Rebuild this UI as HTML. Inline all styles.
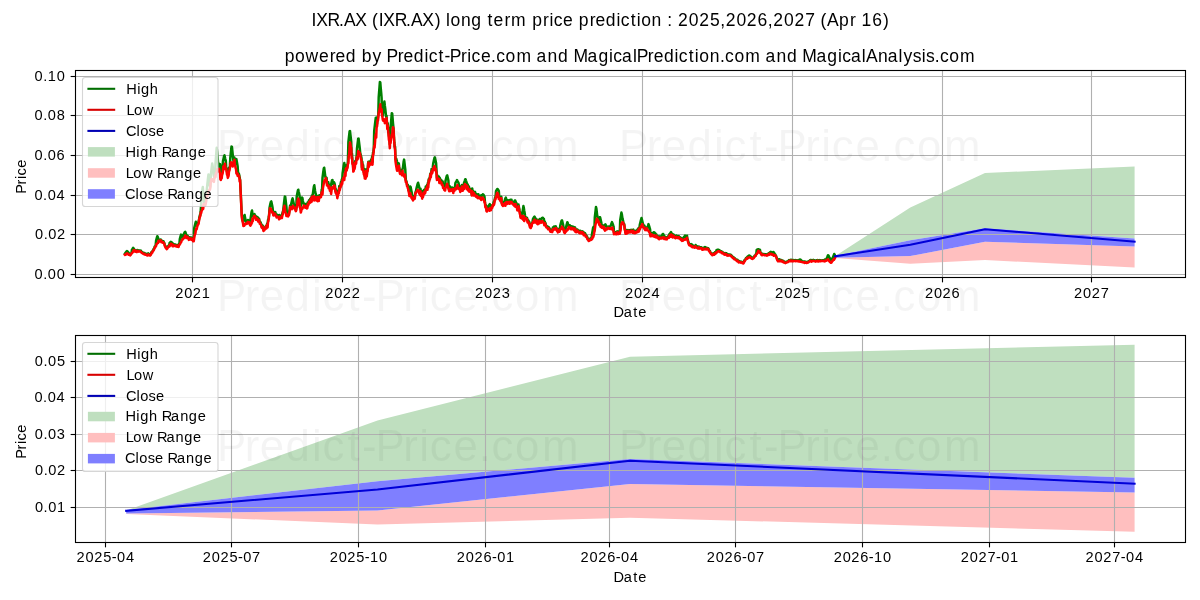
<!DOCTYPE html><html><head><meta charset="utf-8"><style>html,body{margin:0;padding:0;background:#fff;overflow:hidden}svg{display:block;will-change:transform}text{white-space:pre;font-family:"Liberation Sans",sans-serif;fill:#000}</style></head><body>
<svg width="1200" height="600" viewBox="0 0 1200 600">
<rect width="1200" height="600" fill="#fff"/>
<defs><clipPath id="ct"><rect x="75.5" y="70.5" width="1110.0" height="207.0"/></clipPath><clipPath id="cb"><rect x="75.5" y="335.5" width="1110.0" height="207.0"/></clipPath></defs>
<g clip-path="url(#ct)">
<polygon fill="#bfdfbf" points="835.1,256.1 910.3,207.4 985.0,173.0 1134.6,166.5 1134.6,238.4 985.0,228.3 910.3,240.3 835.1,255.8"/>
<polygon fill="#ffbfbf" points="835.1,257.7 910.3,256.1 985.0,241.8 1134.6,246.4 1134.6,267.5 985.0,260.0 910.3,263.7 835.1,258.0"/>
<polygon fill="#7f7fff" points="835.1,255.8 910.3,240.3 985.0,228.3 1134.6,238.4 1134.6,246.4 985.0,241.8 910.3,256.1 835.1,257.7"/>
<line x1="75.5" x2="1185.5" y1="274.5" y2="274.5" stroke="#b0b0b0" stroke-width="1.11"/>
<line x1="75.5" x2="1185.5" y1="234.5" y2="234.5" stroke="#b0b0b0" stroke-width="1.11"/>
<line x1="75.5" x2="1185.5" y1="195.5" y2="195.5" stroke="#b0b0b0" stroke-width="1.11"/>
<line x1="75.5" x2="1185.5" y1="155.5" y2="155.5" stroke="#b0b0b0" stroke-width="1.11"/>
<line x1="75.5" x2="1185.5" y1="115.5" y2="115.5" stroke="#b0b0b0" stroke-width="1.11"/>
<line x1="75.5" x2="1185.5" y1="76.5" y2="76.5" stroke="#b0b0b0" stroke-width="1.11"/>
<line x1="192.5" x2="192.5" y1="70.5" y2="277.5" stroke="#b0b0b0" stroke-width="1.11"/>
<line x1="342.5" x2="342.5" y1="70.5" y2="277.5" stroke="#b0b0b0" stroke-width="1.11"/>
<line x1="492.5" x2="492.5" y1="70.5" y2="277.5" stroke="#b0b0b0" stroke-width="1.11"/>
<line x1="642.5" x2="642.5" y1="70.5" y2="277.5" stroke="#b0b0b0" stroke-width="1.11"/>
<line x1="792.5" x2="792.5" y1="70.5" y2="277.5" stroke="#b0b0b0" stroke-width="1.11"/>
<line x1="942.5" x2="942.5" y1="70.5" y2="277.5" stroke="#b0b0b0" stroke-width="1.11"/>
<line x1="1091.5" x2="1091.5" y1="70.5" y2="277.5" stroke="#b0b0b0" stroke-width="1.11"/>
<polyline fill="none" stroke="#008000" stroke-width="2.5" stroke-linejoin="round" stroke-linecap="square" points="124.9,253.7 125.3,253.0 125.7,252.5 126.1,252.0 126.5,251.5 126.9,251.1 127.4,251.4 127.8,251.9 128.2,252.4 128.6,252.9 129.0,253.4 129.4,253.9 129.8,254.0 130.2,254.8 130.6,254.1 131.0,253.8 131.5,252.9 131.9,249.8 132.3,249.2 132.7,248.5 133.1,247.9 133.5,248.2 133.9,248.8 134.3,249.5 134.7,249.6 135.1,250.2 135.6,250.9 136.0,250.8 136.4,250.6 136.8,251.1 137.2,250.0 137.6,250.1 138.0,250.2 138.4,250.6 138.8,250.5 139.2,250.4 139.7,250.5 140.1,250.5 140.5,251.0 140.9,250.6 141.3,251.3 141.7,252.0 142.1,252.0 142.5,252.3 142.9,253.0 143.3,252.8 143.8,252.9 144.2,252.9 144.6,253.0 145.0,253.7 145.4,254.1 145.8,254.0 146.2,253.7 146.6,254.0 147.0,254.5 147.4,254.8 147.9,254.4 148.3,253.3 148.7,254.4 149.1,254.5 149.5,254.3 149.9,254.4 150.3,254.9 150.7,253.9 151.1,253.3 151.5,252.0 152.0,251.7 152.4,251.3 152.8,250.5 153.2,250.4 153.6,249.0 154.0,248.6 154.4,247.7 154.8,246.4 155.2,246.3 155.6,245.5 156.1,240.5 156.5,239.0 156.9,237.6 157.3,236.2 157.7,236.8 158.1,238.3 158.5,239.4 158.9,241.0 159.3,239.8 159.7,239.8 160.2,239.9 160.6,239.5 161.0,239.6 161.4,241.2 161.8,240.8 162.2,240.9 162.6,240.9 163.0,242.0 163.4,241.2 163.8,242.2 164.3,242.9 164.7,244.5 165.1,245.8 165.5,245.9 165.9,247.0 166.3,246.9 166.7,247.8 167.1,247.6 167.5,247.0 167.9,246.5 168.4,245.8 168.8,245.4 169.2,245.2 169.6,243.0 170.0,242.6 170.4,242.2 170.8,241.8 171.2,242.0 171.6,242.4 172.0,242.8 172.5,243.2 172.9,243.6 173.3,244.9 173.7,244.3 174.1,244.3 174.5,244.6 174.9,244.9 175.3,245.0 175.7,244.6 176.1,245.1 176.6,245.1 177.0,245.6 177.4,245.2 177.8,245.6 178.2,244.9 178.6,245.9 179.0,244.3 179.4,243.9 179.8,239.0 180.2,237.5 180.7,236.0 181.1,234.6 181.5,235.1 181.9,236.6 182.3,238.0 182.7,238.1 183.1,238.0 183.5,235.1 183.9,234.0 184.3,233.0 184.8,232.0 185.2,231.8 185.6,232.8 186.0,233.9 186.4,234.9 186.8,235.7 187.2,235.8 187.6,235.7 188.0,236.9 188.4,237.7 188.9,238.2 189.3,237.3 189.7,238.1 190.1,237.4 190.5,238.4 190.9,238.3 191.3,238.8 191.7,237.6 192.1,238.5 192.5,238.7 193.0,240.0 193.4,239.5 193.8,239.9 194.2,228.3 194.6,226.6 195.0,225.0 195.4,223.3 195.8,221.8 196.2,223.5 196.6,225.2 197.1,225.8 197.5,223.4 197.9,223.7 198.3,223.2 198.7,221.0 199.1,219.0 199.5,216.7 199.9,215.0 200.3,215.0 200.7,211.5 201.2,203.2 201.6,198.7 202.0,194.1 202.4,189.5 202.8,187.1 203.2,191.7 203.6,196.3 204.0,200.9 204.4,203.8 204.8,202.2 205.3,203.5 205.7,202.8 206.1,199.7 206.5,195.0 206.9,188.7 207.3,184.9 207.7,181.2 208.1,177.4 208.5,174.4 208.9,178.1 209.4,181.9 209.8,185.7 210.2,186.9 210.6,182.3 211.0,173.6 211.4,170.3 211.8,166.9 212.2,163.6 212.6,165.8 213.0,169.1 213.5,172.5 213.9,175.8 214.3,177.3 214.7,175.5 215.1,174.6 215.5,163.6 215.9,158.3 216.3,153.0 216.7,147.8 217.1,151.5 217.6,156.8 218.0,162.0 218.4,166.8 218.8,165.5 219.2,165.7 219.6,164.0 220.0,164.1 220.4,166.2 220.8,168.4 221.2,170.5 221.7,176.4 222.1,173.0 222.5,169.7 222.9,161.6 223.3,159.7 223.7,157.9 224.1,156.1 224.5,155.4 224.9,157.2 225.3,159.1 225.8,160.9 226.2,166.9 226.6,169.2 227.0,171.9 227.4,172.1 227.8,174.8 228.2,173.4 228.6,173.8 229.0,168.1 229.4,168.3 229.9,165.9 230.3,158.0 230.7,154.2 231.1,150.4 231.5,146.6 231.9,146.7 232.3,150.5 232.7,154.3 233.1,158.1 233.5,161.2 234.0,162.0 234.4,157.4 234.8,161.4 235.2,164.0 235.6,162.4 236.0,160.1 236.4,159.1 236.8,161.4 237.2,163.8 237.6,166.1 238.1,173.2 238.5,173.1 238.9,173.7 239.3,175.3 239.7,178.1 240.1,179.7 240.5,187.9 240.9,195.9 241.3,205.0 241.7,213.8 242.2,218.8 242.6,219.4 243.0,222.0 243.4,220.2 243.8,218.1 244.2,215.9 244.6,215.0 245.0,217.2 245.4,219.3 245.8,221.5 246.3,221.9 246.7,222.0 247.1,221.6 247.5,221.9 247.9,219.9 248.3,220.3 248.7,220.6 249.1,221.0 249.5,220.2 249.9,223.6 250.4,219.9 250.8,217.2 251.2,214.5 251.6,211.8 252.0,210.5 252.4,213.1 252.8,215.8 253.2,216.2 253.6,216.0 254.0,214.3 254.5,214.1 254.9,215.7 255.3,215.6 255.7,216.4 256.1,218.2 256.5,217.1 256.9,216.8 257.3,218.0 257.7,217.3 258.1,219.6 258.6,219.0 259.0,218.6 259.4,220.5 259.8,222.3 260.2,222.0 260.6,222.4 261.0,223.4 261.4,224.7 261.8,227.1 262.2,225.8 262.7,225.6 263.1,227.3 263.5,229.6 263.9,228.9 264.3,228.4 264.7,228.4 265.1,227.2 265.5,227.7 265.9,225.9 266.3,227.1 266.8,224.9 267.2,223.5 267.6,225.3 268.0,220.1 268.4,219.2 268.8,217.1 269.2,213.4 269.6,207.5 270.0,205.6 270.4,203.6 270.9,201.7 271.3,201.4 271.7,203.3 272.1,205.2 272.5,207.2 272.9,210.6 273.3,213.2 273.7,212.8 274.1,213.3 274.6,213.1 275.0,212.0 275.4,212.3 275.8,214.1 276.2,214.5 276.6,216.3 277.0,214.7 277.4,214.8 277.8,215.0 278.2,215.9 278.7,215.8 279.1,217.8 279.5,215.0 279.9,216.7 280.3,217.6 280.7,216.5 281.1,216.7 281.5,216.6 281.9,216.2 282.3,213.5 282.8,211.8 283.2,210.7 283.6,206.6 284.0,203.2 284.4,199.9 284.8,196.6 285.2,196.7 285.6,200.0 286.0,203.3 286.4,206.6 286.9,213.7 287.3,213.5 287.7,213.9 288.1,214.9 288.5,212.4 288.9,214.4 289.3,211.0 289.7,209.4 290.1,205.4 290.5,207.0 291.0,205.0 291.4,203.1 291.8,201.3 292.2,199.4 292.6,198.4 293.0,200.2 293.4,202.1 293.8,203.9 294.2,205.8 294.6,207.4 295.1,207.2 295.5,207.7 295.9,210.5 296.3,207.6 296.7,196.7 297.1,194.6 297.5,192.5 297.9,190.4 298.3,189.7 298.7,191.8 299.2,193.9 299.6,196.0 300.0,204.4 300.4,207.8 300.8,205.1 301.2,202.6 301.6,200.1 302.0,197.6 302.4,197.9 302.8,200.4 303.3,202.9 303.7,204.2 304.1,204.4 304.5,205.9 304.9,204.0 305.3,205.7 305.7,205.8 306.1,203.9 306.5,204.4 306.9,205.9 307.4,205.6 307.8,202.2 308.2,202.9 308.6,203.3 309.0,200.2 309.4,200.9 309.8,200.4 310.2,198.7 310.6,199.4 311.0,197.8 311.5,199.5 311.9,195.4 312.3,198.7 312.7,194.9 313.1,192.1 313.5,189.3 313.9,186.5 314.3,185.3 314.7,188.1 315.1,190.9 315.6,193.7 316.0,194.9 316.4,198.4 316.8,198.5 317.2,199.5 317.6,198.9 318.0,195.9 318.4,197.6 318.8,198.0 319.2,195.4 319.7,195.2 320.1,195.2 320.5,194.9 320.9,195.2 321.3,193.9 321.7,189.7 322.1,189.3 322.5,177.9 322.9,174.8 323.3,171.6 323.8,168.4 324.2,167.7 324.6,170.9 325.0,174.1 325.4,177.2 325.8,177.1 326.2,177.8 326.6,177.7 327.0,183.4 327.4,183.2 327.9,184.2 328.3,182.3 328.7,185.2 329.1,184.5 329.5,185.7 329.9,188.4 330.3,187.9 330.7,186.5 331.1,184.5 331.5,182.5 332.0,180.4 332.4,180.0 332.8,182.0 333.2,184.0 333.6,183.9 334.0,182.2 334.4,183.1 334.8,184.4 335.2,187.9 335.6,191.1 336.1,189.3 336.5,193.3 336.9,192.0 337.3,196.2 337.7,193.7 338.1,193.3 338.5,191.0 338.9,191.2 339.3,186.1 339.7,188.6 340.2,186.6 340.6,183.9 341.0,181.7 341.4,183.7 341.8,179.4 342.2,180.6 342.6,173.3 343.0,170.6 343.4,167.8 343.8,165.1 344.3,163.0 344.7,165.8 345.1,168.5 345.5,171.2 345.9,166.1 346.3,165.2 346.7,169.8 347.1,167.0 347.5,165.1 347.9,161.3 348.4,141.9 348.8,138.4 349.2,134.8 349.6,131.3 350.0,131.0 350.4,134.6 350.8,138.1 351.2,141.7 351.6,154.1 352.0,153.9 352.5,163.3 352.9,162.8 353.3,168.8 353.7,168.8 354.1,165.5 354.5,167.4 354.9,163.1 355.3,161.1 355.7,161.2 356.1,160.5 356.6,156.1 357.0,148.5 357.4,145.2 357.8,142.0 358.2,138.7 358.6,138.6 359.0,141.9 359.4,145.1 359.8,148.4 360.2,152.8 360.7,154.8 361.1,156.4 361.5,158.1 361.9,167.1 362.3,161.7 362.7,166.7 363.1,164.9 363.5,169.4 363.9,172.3 364.3,168.9 364.8,176.1 365.2,174.9 365.6,177.2 366.0,169.5 366.4,169.7 366.8,174.6 367.2,169.2 367.6,169.9 368.0,164.0 368.4,161.8 368.9,162.7 369.3,161.7 369.7,161.4 370.1,161.5 370.5,161.8 370.9,160.5 371.3,159.3 371.7,161.2 372.1,156.6 372.5,161.9 373.0,152.6 373.4,152.1 373.8,147.5 374.2,131.1 374.6,127.7 375.0,124.2 375.4,120.8 375.8,117.7 376.2,121.1 376.6,124.3 377.1,123.7 377.5,117.1 377.9,117.3 378.3,114.6 378.7,97.3 379.1,92.2 379.5,87.0 379.9,81.9 380.3,82.5 380.7,87.6 381.2,92.8 381.6,97.9 382.0,112.0 382.4,114.9 382.8,115.7 383.2,112.5 383.6,108.6 384.0,104.8 384.4,101.6 384.8,105.4 385.3,109.2 385.7,113.0 386.1,116.8 386.5,115.7 386.9,121.3 387.3,126.0 387.7,123.3 388.1,128.0 388.5,131.5 388.9,135.5 389.4,138.5 389.8,144.5 390.2,139.4 390.6,127.8 391.0,122.9 391.4,118.1 391.8,113.2 392.2,113.6 392.6,118.4 393.0,123.3 393.5,128.1 393.9,135.0 394.3,142.2 394.7,146.9 395.1,146.7 395.5,159.2 395.9,160.1 396.3,158.8 396.7,160.3 397.1,161.8 397.6,163.2 398.0,164.7 398.4,165.5 398.8,163.4 399.2,166.9 399.6,169.2 400.0,171.5 400.4,170.9 400.8,171.2 401.2,170.4 401.7,172.4 402.1,172.9 402.5,168.9 402.9,167.9 403.3,164.6 403.7,161.2 404.1,159.6 404.5,163.0 404.9,166.4 405.3,169.7 405.8,179.9 406.2,180.7 406.6,181.9 407.0,184.5 407.4,184.6 407.8,184.7 408.2,186.3 408.6,190.3 409.0,190.2 409.4,190.8 409.9,188.7 410.3,186.5 410.7,187.2 411.1,189.4 411.5,191.5 411.9,193.6 412.3,196.4 412.7,195.8 413.1,198.8 413.5,197.7 414.0,196.2 414.4,196.3 414.8,196.7 415.2,193.9 415.6,192.1 416.0,190.9 416.4,188.7 416.8,187.1 417.2,185.5 417.6,183.9 418.1,182.7 418.5,184.3 418.9,185.9 419.3,187.5 419.7,189.1 420.1,194.1 420.5,188.7 420.9,193.1 421.3,193.8 421.7,192.0 422.2,196.7 422.6,191.1 423.0,194.6 423.4,193.2 423.8,191.2 424.2,189.7 424.6,190.0 425.0,191.3 425.4,189.9 425.8,186.5 426.3,186.8 426.7,187.1 427.1,184.9 427.5,186.6 427.9,182.8 428.3,183.7 428.7,179.3 429.1,180.6 429.5,178.2 429.9,176.4 430.4,173.4 430.8,174.3 431.2,173.1 431.6,168.9 432.0,171.7 432.4,170.1 432.8,167.2 433.2,163.6 433.6,161.7 434.0,159.8 434.5,157.9 434.9,157.4 435.3,159.3 435.7,161.3 436.1,163.2 436.5,170.0 436.9,178.0 437.3,175.2 437.7,176.3 438.1,177.0 438.6,177.5 439.0,176.7 439.4,182.0 439.8,177.9 440.2,180.9 440.6,179.4 441.0,181.8 441.4,180.1 441.8,182.5 442.2,182.7 442.7,181.5 443.1,186.3 443.5,186.1 443.9,185.6 444.3,187.3 444.7,187.9 445.1,187.8 445.5,180.9 445.9,179.2 446.3,177.5 446.8,175.8 447.2,175.4 447.6,177.1 448.0,178.8 448.4,180.6 448.8,188.1 449.2,190.1 449.6,188.3 450.0,186.5 450.4,189.1 450.9,187.9 451.3,188.1 451.7,187.9 452.1,187.5 452.5,188.2 452.9,187.9 453.3,190.2 453.7,188.2 454.1,189.3 454.5,188.2 455.0,187.2 455.4,183.1 455.8,182.3 456.2,181.5 456.6,180.8 457.0,180.0 457.4,180.8 457.8,181.5 458.2,182.3 458.6,183.1 459.1,186.8 459.5,186.1 459.9,187.2 460.3,190.2 460.7,188.4 461.1,187.7 461.5,187.6 461.9,185.0 462.3,186.3 462.7,188.9 463.2,185.4 463.6,187.4 464.0,183.0 464.4,181.8 464.8,180.6 465.2,179.3 465.6,179.3 466.0,180.6 466.4,181.8 466.8,183.1 467.3,186.4 467.7,184.4 468.1,188.6 468.5,189.3 468.9,186.4 469.3,188.4 469.7,190.0 470.1,188.9 470.5,190.2 470.9,189.4 471.4,191.7 471.8,194.7 472.2,188.5 472.6,191.4 473.0,190.9 473.4,193.3 473.8,192.5 474.2,193.4 474.6,192.2 475.0,191.8 475.5,194.3 475.9,195.1 476.3,193.9 476.7,194.3 477.1,194.8 477.5,195.9 477.9,196.3 478.3,194.3 478.7,196.4 479.1,196.6 479.6,196.3 480.0,196.0 480.4,195.5 480.8,196.3 481.2,197.6 481.6,196.3 482.0,194.9 482.4,195.0 482.8,194.3 483.2,194.4 483.7,195.1 484.1,195.8 484.5,196.5 484.9,201.4 485.3,205.2 485.7,205.8 486.1,205.2 486.5,209.2 486.9,210.6 487.3,208.7 487.8,207.0 488.2,206.9 488.6,206.1 489.0,205.4 489.4,204.6 489.8,204.2 490.2,205.0 490.6,205.7 491.0,206.5 491.4,205.7 491.9,205.8 492.3,206.1 492.7,204.7 493.1,204.2 493.5,202.9 493.9,201.6 494.3,201.7 494.7,199.4 495.1,197.4 495.5,197.5 496.0,191.0 496.4,190.3 496.8,189.7 497.2,189.0 497.6,189.0 498.0,189.6 498.4,190.3 498.8,190.9 499.2,195.9 499.6,196.7 500.1,198.0 500.5,200.0 500.9,198.7 501.3,196.7 501.7,202.9 502.1,203.2 502.5,202.2 502.9,203.8 503.3,203.7 503.7,203.1 504.2,202.1 504.6,200.8 505.0,199.5 505.4,198.3 505.8,197.6 506.2,198.8 506.6,200.1 507.0,201.4 507.4,201.9 507.8,200.3 508.3,201.0 508.7,201.2 509.1,200.4 509.5,201.9 509.9,200.7 510.3,199.7 510.7,201.0 511.1,201.7 511.5,199.8 511.9,202.2 512.4,202.4 512.8,201.8 513.2,202.3 513.6,203.2 514.0,202.2 514.4,201.3 514.8,200.4 515.2,200.5 515.6,201.4 516.0,202.3 516.5,203.3 516.9,206.1 517.3,208.6 517.7,206.9 518.1,207.5 518.5,204.6 518.9,206.9 519.3,209.0 519.7,211.1 520.1,212.1 520.6,216.6 521.0,216.5 521.4,214.8 521.8,214.7 522.2,214.3 522.6,211.6 523.0,208.9 523.4,206.1 523.8,207.8 524.2,210.5 524.7,213.2 525.1,216.0 525.5,217.8 525.9,217.3 526.3,218.3 526.7,217.5 527.1,218.0 527.5,220.5 527.9,220.2 528.3,220.4 528.8,222.5 529.2,221.7 529.6,224.2 530.0,225.7 530.4,225.7 530.8,226.9 531.2,226.2 531.6,224.7 532.0,223.0 532.4,222.8 532.9,219.1 533.3,218.4 533.7,217.7 534.1,217.0 534.5,216.6 534.9,217.3 535.3,218.0 535.7,218.7 536.1,220.1 536.5,221.1 537.0,221.7 537.4,219.8 537.8,222.6 538.2,220.9 538.6,220.9 539.0,220.5 539.4,222.7 539.8,219.0 540.2,220.5 540.6,220.8 541.1,219.1 541.5,218.6 541.9,218.2 542.3,217.7 542.7,217.7 543.1,218.1 543.5,218.6 543.9,219.0 544.3,223.6 544.7,221.4 545.2,222.8 545.6,223.4 546.0,225.3 546.4,225.9 546.8,226.0 547.2,226.5 547.6,226.5 548.0,227.8 548.4,226.9 548.8,227.4 549.3,228.1 549.7,228.7 550.1,229.6 550.5,230.2 550.9,230.5 551.3,229.7 551.7,229.9 552.1,230.6 552.5,229.6 552.9,227.5 553.4,227.3 553.8,226.9 554.2,226.4 554.6,226.4 555.0,226.8 555.4,227.2 555.8,226.4 556.2,227.8 556.6,228.5 557.0,229.8 557.5,228.7 557.9,231.1 558.3,230.1 558.7,230.1 559.1,230.2 559.5,231.0 559.9,229.0 560.3,225.4 560.7,223.8 561.1,222.3 561.6,220.7 562.0,220.3 562.4,221.9 562.8,223.5 563.2,225.1 563.6,228.4 564.0,230.6 564.4,231.4 564.8,231.4 565.2,231.3 565.7,229.9 566.1,226.8 566.5,225.3 566.9,223.8 567.3,222.2 567.7,222.9 568.1,224.5 568.5,226.0 568.9,225.7 569.3,226.8 569.8,225.3 570.2,226.1 570.6,227.9 571.0,227.7 571.4,226.4 571.8,228.5 572.2,226.5 572.6,227.8 573.0,227.3 573.4,226.7 573.9,228.2 574.3,228.7 574.7,228.6 575.1,227.4 575.5,230.7 575.9,229.1 576.3,231.1 576.7,229.5 577.1,229.5 577.5,229.5 578.0,230.4 578.4,230.5 578.8,230.6 579.2,230.8 579.6,231.4 580.0,231.0 580.4,230.8 580.8,231.9 581.2,232.2 581.6,232.0 582.1,232.8 582.5,231.4 582.9,232.6 583.3,231.9 583.7,234.1 584.1,233.6 584.5,233.3 584.9,233.0 585.3,233.7 585.7,235.1 586.2,235.4 586.6,236.6 587.0,236.3 587.4,238.0 587.8,238.7 588.2,238.6 588.6,239.8 589.0,239.7 589.4,239.9 589.8,239.7 590.3,238.5 590.7,239.4 591.1,238.8 591.5,238.6 591.9,234.8 592.3,232.4 592.7,230.1 593.1,227.8 593.5,226.9 593.9,229.3 594.4,230.7 594.8,217.5 595.2,214.0 595.6,210.5 596.0,207.0 596.4,208.6 596.8,212.1 597.2,215.6 597.6,217.7 598.0,220.4 598.5,219.7 598.9,220.9 599.3,219.1 599.7,217.3 600.1,217.2 600.5,219.0 600.9,220.7 601.3,222.5 601.7,226.4 602.1,225.2 602.6,225.6 603.0,226.4 603.4,227.1 603.8,225.6 604.2,226.7 604.6,225.7 605.0,224.7 605.4,224.3 605.8,225.3 606.2,226.3 606.7,227.3 607.1,226.8 607.5,227.7 607.9,226.6 608.3,226.5 608.7,227.6 609.1,227.0 609.5,226.5 609.9,227.6 610.3,226.6 610.8,225.5 611.2,224.3 611.6,223.2 612.0,222.1 612.4,223.1 612.8,224.2 613.2,225.4 613.6,226.5 614.0,232.3 614.4,232.2 614.9,232.0 615.3,232.2 615.7,232.4 616.1,232.1 616.5,232.2 616.9,232.1 617.3,231.3 617.7,231.8 618.1,233.1 618.5,231.7 619.0,231.5 619.4,230.9 619.8,232.4 620.2,220.2 620.6,217.7 621.0,215.1 621.4,212.6 621.8,214.0 622.2,216.6 622.6,219.1 623.1,220.9 623.5,223.3 623.9,223.7 624.3,224.3 624.7,228.4 625.1,230.1 625.5,232.3 625.9,232.8 626.3,229.9 626.7,232.0 627.2,230.5 627.6,230.1 628.0,231.6 628.4,230.2 628.8,230.1 629.2,231.3 629.6,230.7 630.0,230.6 630.4,230.0 630.8,230.3 631.3,229.8 631.7,230.2 632.1,230.7 632.5,231.5 632.9,230.5 633.3,229.6 633.7,230.5 634.1,231.8 634.5,231.4 634.9,231.8 635.4,231.6 635.8,230.9 636.2,231.3 636.6,230.7 637.0,230.5 637.4,229.7 637.8,229.1 638.2,230.7 638.6,228.0 639.0,230.0 639.5,227.2 639.9,224.2 640.3,222.7 640.7,221.1 641.1,219.6 641.5,218.0 641.9,219.6 642.3,221.1 642.7,222.7 643.1,224.2 643.6,225.3 644.0,227.0 644.4,225.6 644.8,227.5 645.2,228.7 645.6,228.4 646.0,227.9 646.4,228.3 646.8,227.3 647.2,228.2 647.7,226.9 648.1,225.5 648.5,224.1 648.9,225.3 649.3,226.7 649.7,228.0 650.1,229.4 650.5,234.6 650.9,235.2 651.3,234.9 651.8,233.2 652.2,235.1 652.6,233.5 653.0,233.1 653.4,232.6 653.8,232.2 654.2,232.2 654.6,232.7 655.0,233.1 655.4,233.5 655.9,234.4 656.3,234.3 656.7,235.7 657.1,236.3 657.5,236.5 657.9,237.2 658.3,236.4 658.7,237.3 659.1,237.9 659.5,237.5 660.0,236.4 660.4,237.2 660.8,236.7 661.2,237.4 661.6,236.3 662.0,235.5 662.4,234.7 662.8,233.9 663.2,234.0 663.6,234.8 664.1,235.6 664.5,236.4 664.9,238.0 665.3,238.2 665.7,237.3 666.1,238.6 666.5,237.5 666.9,238.6 667.3,237.0 667.7,237.4 668.2,236.3 668.6,235.8 669.0,236.4 669.4,234.1 669.8,234.1 670.2,233.4 670.6,232.7 671.0,232.0 671.4,232.8 671.8,233.5 672.3,234.2 672.7,234.9 673.1,235.8 673.5,234.5 673.9,235.1 674.3,235.7 674.7,236.2 675.1,236.7 675.5,237.1 675.9,235.8 676.4,235.5 676.8,236.8 677.2,236.1 677.6,237.0 678.0,236.2 678.4,236.8 678.8,236.0 679.2,237.4 679.6,237.0 680.0,238.0 680.5,238.3 680.9,237.7 681.3,239.2 681.7,238.3 682.1,240.0 682.5,239.2 682.9,239.8 683.3,238.1 683.7,237.5 684.1,236.8 684.6,236.2 685.0,235.6 685.4,236.1 685.8,236.7 686.2,237.3 686.6,237.5 687.0,235.7 687.4,238.8 687.8,239.7 688.2,241.6 688.7,242.8 689.1,243.8 689.5,244.6 689.9,244.5 690.3,244.4 690.7,244.2 691.1,244.1 691.5,244.3 691.9,244.5 692.3,244.8 692.8,245.5 693.2,246.2 693.6,246.0 694.0,246.1 694.4,246.7 694.8,246.2 695.2,246.7 695.6,244.9 696.0,246.5 696.4,246.9 696.9,247.1 697.3,246.4 697.7,247.3 698.1,247.5 698.5,247.1 698.9,246.5 699.3,247.6 699.7,247.1 700.1,247.2 700.5,247.3 700.9,247.4 701.4,247.3 701.8,247.5 702.2,248.7 702.6,248.0 703.0,248.6 703.4,248.1 703.8,247.9 704.2,247.6 704.6,247.3 705.0,247.0 705.5,247.3 705.9,247.6 706.3,247.9 706.7,248.2 707.1,248.1 707.5,248.1 707.9,248.4 708.3,248.3 708.7,249.1 709.1,250.4 709.6,250.6 710.0,251.1 710.4,252.2 710.8,252.7 711.2,253.6 711.6,253.5 712.0,253.8 712.4,254.4 712.8,253.8 713.2,253.3 713.7,253.6 714.1,254.1 714.5,253.6 714.9,252.4 715.3,253.0 715.7,252.0 716.1,252.2 716.5,250.1 716.9,250.0 717.3,249.8 717.8,249.7 718.2,249.7 718.6,249.9 719.0,250.0 719.4,250.2 719.8,250.5 720.2,251.5 720.6,251.2 721.0,251.6 721.4,251.3 721.9,252.3 722.3,251.8 722.7,252.3 723.1,252.8 723.5,252.7 723.9,253.3 724.3,253.7 724.7,253.5 725.1,253.0 725.5,253.9 726.0,254.0 726.4,253.2 726.8,254.2 727.2,254.8 727.6,254.3 728.0,254.3 728.4,254.4 728.8,254.8 729.2,254.6 729.6,254.6 730.1,254.6 730.5,254.8 730.9,254.8 731.3,255.5 731.7,255.5 732.1,256.2 732.5,257.1 732.9,256.9 733.3,257.5 733.7,257.2 734.2,258.3 734.6,258.1 735.0,258.5 735.4,258.9 735.8,259.2 736.2,259.5 736.6,259.8 737.0,260.2 737.4,259.7 737.8,260.6 738.3,261.0 738.7,261.6 739.1,261.1 739.5,261.6 739.9,261.7 740.3,261.9 740.7,261.5 741.1,261.7 741.5,261.8 741.9,262.0 742.4,262.2 742.8,262.6 743.2,262.5 743.6,262.2 744.0,261.6 744.4,260.2 744.8,260.3 745.2,259.5 745.6,258.9 746.0,258.1 746.5,258.1 746.9,257.2 747.3,257.7 747.7,256.5 748.1,256.2 748.5,255.9 748.9,255.6 749.3,255.5 749.7,255.8 750.1,256.1 750.6,256.4 751.0,257.0 751.4,257.5 751.8,258.0 752.2,257.9 752.6,258.2 753.0,257.6 753.4,257.2 753.8,257.0 754.2,256.6 754.7,255.6 755.1,255.6 755.5,255.6 755.9,254.2 756.3,253.8 756.7,249.8 757.1,249.7 757.5,249.5 757.9,249.3 758.3,249.2 758.8,249.4 759.2,249.5 759.6,249.7 760.0,249.9 760.4,252.2 760.8,252.7 761.2,253.4 761.6,254.3 762.0,254.4 762.4,253.8 762.9,253.9 763.3,254.0 763.7,254.2 764.1,254.1 764.5,254.6 764.9,254.3 765.3,254.7 765.7,254.4 766.1,254.3 766.5,254.8 767.0,254.3 767.4,254.6 767.8,254.1 768.2,254.6 768.6,253.2 769.0,253.9 769.4,253.0 769.8,252.6 770.2,252.2 770.6,251.8 771.1,252.0 771.5,252.3 771.9,252.7 772.3,253.1 772.7,252.6 773.1,252.0 773.5,252.0 773.9,252.6 774.3,253.2 774.7,253.8 775.2,254.3 775.6,255.5 776.0,255.8 776.4,256.9 776.8,257.9 777.2,259.5 777.6,259.8 778.0,259.9 778.4,259.7 778.8,259.4 779.3,259.2 779.7,259.5 780.1,259.7 780.5,260.0 780.9,260.2 781.3,260.4 781.7,260.1 782.1,260.7 782.5,260.9 782.9,261.3 783.4,260.9 783.8,261.9 784.2,261.9 784.6,261.7 785.0,262.0 785.4,262.5 785.8,261.9 786.2,261.9 786.6,261.8 787.0,261.5 787.5,261.5 787.9,261.2 788.3,261.2 788.7,260.4 789.1,260.1 789.5,260.3 789.9,260.5 790.3,260.0 790.7,260.4 791.1,259.7 791.6,260.0 792.0,260.6 792.4,260.0 792.8,260.1 793.2,260.3 793.6,260.0 794.0,260.4 794.4,260.2 794.8,260.5 795.2,260.1 795.7,260.5 796.1,260.2 796.5,260.3 796.9,260.2 797.3,260.4 797.7,260.7 798.1,260.4 798.5,260.4 798.9,260.2 799.3,259.8 799.8,259.4 800.2,259.4 800.6,259.7 801.0,260.1 801.4,260.5 801.8,261.2 802.2,261.3 802.6,261.4 803.0,261.5 803.4,261.4 803.9,261.9 804.3,261.5 804.7,262.2 805.1,261.6 805.5,261.8 805.9,262.1 806.3,262.0 806.7,262.4 807.1,262.0 807.5,261.8 808.0,262.0 808.4,261.4 808.8,261.3 809.2,260.9 809.6,260.8 810.0,260.3 810.4,259.9 810.8,260.0 811.2,260.0 811.6,261.0 812.1,260.3 812.5,260.2 812.9,260.4 813.3,259.9 813.7,260.4 814.1,260.4 814.5,260.2 814.9,260.5 815.3,260.6 815.7,260.8 816.2,260.2 816.6,260.3 817.0,260.5 817.4,260.0 817.8,260.3 818.2,260.6 818.6,260.7 819.0,260.2 819.4,260.1 819.8,260.6 820.3,260.2 820.7,260.6 821.1,260.3 821.5,260.5 821.9,260.5 822.3,260.4 822.7,260.3 823.1,260.2 823.5,260.4 823.9,260.1 824.4,259.9 824.8,259.6 825.2,259.6 825.6,259.9 826.0,260.1 826.4,259.7 826.8,258.3 827.2,257.3 827.6,256.2 828.0,255.2 828.5,255.5 828.9,256.5 829.3,257.5 829.7,258.6 830.1,259.9 830.5,259.0 830.9,258.6 831.3,259.5 831.7,260.5 832.1,260.6 832.6,260.3 833.0,257.3 833.4,256.2 833.8,255.1 834.2,254.0 834.6,254.5 835.0,255.6"/>
<polyline fill="none" stroke="#ff0000" stroke-width="2.5" stroke-linejoin="round" stroke-linecap="square" points="124.9,254.7 125.3,254.3 125.7,254.8 126.1,254.3 126.5,253.6 126.9,253.8 127.4,253.3 127.8,253.8 128.2,254.1 128.6,254.8 129.0,254.2 129.4,254.8 129.8,254.8 130.2,255.5 130.6,254.8 131.0,254.4 131.5,253.6 131.9,252.9 132.3,252.9 132.7,252.2 133.1,251.6 133.5,250.3 133.9,251.2 134.3,251.4 134.7,250.1 135.1,250.8 135.6,251.8 136.0,251.8 136.4,251.8 136.8,252.1 137.2,250.7 137.6,250.8 138.0,251.2 138.4,251.5 138.8,251.7 139.2,251.5 139.7,251.3 140.1,251.2 140.5,251.7 140.9,251.9 141.3,252.1 141.7,252.9 142.1,253.0 142.5,253.3 142.9,253.7 143.3,253.7 143.8,253.9 144.2,254.3 144.6,253.8 145.0,254.4 145.4,254.6 145.8,254.8 146.2,254.8 146.6,255.1 147.0,255.4 147.4,255.5 147.9,255.1 148.3,254.4 148.7,255.1 149.1,255.3 149.5,255.2 149.9,255.5 150.3,255.5 150.7,254.7 151.1,254.4 151.5,253.1 152.0,252.2 152.4,252.5 152.8,251.1 153.2,251.0 153.6,250.2 154.0,249.6 154.4,248.5 154.8,247.3 155.2,247.4 155.6,246.5 156.1,245.9 156.5,244.0 156.9,243.8 157.3,243.4 157.7,242.7 158.1,242.9 158.5,240.7 158.9,241.8 159.3,241.1 159.7,241.3 160.2,241.2 160.6,240.3 161.0,240.4 161.4,242.2 161.8,241.9 162.2,242.3 162.6,242.1 163.0,242.8 163.4,242.4 163.8,243.4 164.3,243.7 164.7,245.5 165.1,246.6 165.5,247.3 165.9,248.2 166.3,248.4 166.7,249.2 167.1,248.8 167.5,248.2 167.9,247.4 168.4,247.0 168.8,246.6 169.2,245.6 169.6,246.4 170.0,245.7 170.4,245.1 170.8,243.7 171.2,244.4 171.6,243.9 172.0,244.8 172.5,246.1 172.9,244.7 173.3,246.2 173.7,245.1 174.1,245.5 174.5,245.6 174.9,246.0 175.3,246.2 175.7,245.6 176.1,246.1 176.6,245.8 177.0,246.8 177.4,246.4 177.8,246.3 178.2,245.6 178.6,247.0 179.0,245.3 179.4,245.1 179.8,244.1 180.2,243.8 180.7,242.4 181.1,242.2 181.5,241.1 181.9,239.9 182.3,239.6 182.7,238.9 183.1,239.2 183.5,238.5 183.9,238.0 184.3,237.6 184.8,236.7 185.2,235.5 185.6,237.4 186.0,236.9 186.4,238.0 186.8,236.8 187.2,236.8 187.6,236.7 188.0,237.7 188.4,238.8 188.9,239.9 189.3,238.5 189.7,239.1 190.1,238.3 190.5,239.4 190.9,239.5 191.3,239.8 191.7,238.5 192.1,239.6 192.5,239.8 193.0,241.2 193.4,240.6 193.8,241.2 194.2,237.7 194.6,235.7 195.0,234.4 195.4,233.5 195.8,230.3 196.2,228.3 196.6,229.4 197.1,227.3 197.5,225.2 197.9,224.7 198.3,224.5 198.7,222.7 199.1,220.4 199.5,218.2 199.9,216.8 200.3,216.1 200.7,212.6 201.2,213.0 201.6,210.8 202.0,210.4 202.4,209.4 202.8,206.0 203.2,208.9 203.6,203.9 204.0,205.4 204.4,205.1 204.8,203.8 205.3,205.6 205.7,203.8 206.1,201.7 206.5,196.6 206.9,195.5 207.3,196.0 207.7,195.7 208.1,192.5 208.5,191.4 208.9,190.9 209.4,189.6 209.8,189.9 210.2,188.8 210.6,183.6 211.0,181.8 211.4,179.0 211.8,180.8 212.2,179.6 212.6,180.6 213.0,179.4 213.5,181.4 213.9,181.8 214.3,178.6 214.7,177.9 215.1,176.1 215.5,177.0 215.9,173.3 216.3,173.3 216.7,172.0 217.1,169.4 217.6,169.1 218.0,171.2 218.4,168.7 218.8,169.2 219.2,169.1 219.6,172.1 220.0,172.9 220.4,179.3 220.8,180.0 221.2,176.2 221.7,178.3 222.1,174.4 222.5,173.8 222.9,171.8 223.3,166.4 223.7,169.7 224.1,166.7 224.5,167.0 224.9,163.7 225.3,167.8 225.8,168.9 226.2,168.5 226.6,171.7 227.0,174.6 227.4,175.0 227.8,177.9 228.2,176.8 228.6,175.8 229.0,171.3 229.4,170.9 229.9,168.0 230.3,164.8 230.7,163.3 231.1,162.3 231.5,162.9 231.9,163.9 232.3,163.3 232.7,166.6 233.1,162.3 233.5,164.3 234.0,162.9 234.4,159.8 234.8,164.4 235.2,165.8 235.6,168.0 236.0,169.0 236.4,173.4 236.8,173.8 237.2,173.0 237.6,175.9 238.1,174.5 238.5,176.1 238.9,175.7 239.3,177.1 239.7,181.7 240.1,179.9 240.5,189.6 240.9,198.0 241.3,206.3 241.7,215.5 242.2,220.0 242.6,221.3 243.0,223.2 243.4,226.0 243.8,224.1 244.2,225.8 244.6,224.9 245.0,224.1 245.4,223.5 245.8,224.2 246.3,223.7 246.7,223.5 247.1,223.7 247.5,222.4 247.9,221.9 248.3,223.2 248.7,222.2 249.1,223.0 249.5,222.4 249.9,224.8 250.4,225.6 250.8,224.1 251.2,224.4 251.6,223.2 252.0,223.0 252.4,218.5 252.8,221.1 253.2,218.1 253.6,217.2 254.0,216.1 254.5,215.9 254.9,216.9 255.3,216.9 255.7,218.5 256.1,219.8 256.5,218.9 256.9,218.3 257.3,218.9 257.7,219.3 258.1,221.4 258.6,220.5 259.0,219.8 259.4,221.7 259.8,223.8 260.2,223.5 260.6,224.2 261.0,225.1 261.4,226.3 261.8,227.8 262.2,226.7 262.7,226.8 263.1,229.4 263.5,231.0 263.9,230.5 264.3,230.2 264.7,229.6 265.1,228.3 265.5,228.8 265.9,226.5 266.3,228.5 266.8,225.8 267.2,224.7 267.6,227.4 268.0,221.9 268.4,221.0 268.8,218.4 269.2,214.8 269.6,211.0 270.0,208.3 270.4,209.5 270.9,208.8 271.3,210.5 271.7,210.9 272.1,212.0 272.5,213.0 272.9,212.2 273.3,215.4 273.7,214.6 274.1,214.6 274.6,215.2 275.0,213.6 275.4,214.6 275.8,216.0 276.2,215.7 276.6,217.6 277.0,216.5 277.4,217.3 277.8,216.8 278.2,217.0 278.7,218.0 279.1,219.3 279.5,216.8 279.9,218.3 280.3,218.4 280.7,217.5 281.1,217.9 281.5,217.7 281.9,218.0 282.3,215.1 282.8,214.3 283.2,211.8 283.6,210.1 284.0,207.7 284.4,205.7 284.8,208.5 285.2,211.2 285.6,212.7 286.0,213.9 286.4,216.1 286.9,215.3 287.3,214.8 287.7,215.7 288.1,216.5 288.5,214.4 288.9,215.4 289.3,212.6 289.7,211.0 290.1,207.1 290.5,208.8 291.0,207.2 291.4,208.8 291.8,209.1 292.2,208.6 292.6,206.5 293.0,205.7 293.4,208.3 293.8,207.8 294.2,207.7 294.6,207.6 295.1,208.2 295.5,210.2 295.9,211.2 296.3,209.7 296.7,206.7 297.1,207.4 297.5,201.0 297.9,200.3 298.3,198.6 298.7,200.1 299.2,200.5 299.6,205.1 300.0,206.7 300.4,209.3 300.8,212.6 301.2,211.4 301.6,208.6 302.0,209.2 302.4,208.7 302.8,207.8 303.3,207.1 303.7,205.5 304.1,206.3 304.5,207.2 304.9,206.1 305.3,207.7 305.7,207.3 306.1,206.2 306.5,206.1 306.9,208.6 307.4,207.9 307.8,203.9 308.2,205.3 308.6,204.0 309.0,202.0 309.4,202.9 309.8,203.0 310.2,200.6 310.6,201.2 311.0,198.4 311.5,201.9 311.9,196.8 312.3,200.3 312.7,200.4 313.1,199.1 313.5,196.8 313.9,196.0 314.3,199.2 314.7,200.4 315.1,198.2 315.6,200.1 316.0,197.3 316.4,199.6 316.8,200.0 317.2,200.9 317.6,201.1 318.0,197.1 318.4,201.0 318.8,201.0 319.2,197.5 319.7,197.7 320.1,197.1 320.5,196.4 320.9,197.2 321.3,195.2 321.7,192.2 322.1,192.6 322.5,194.5 322.9,188.4 323.3,186.0 323.8,183.5 324.2,181.5 324.6,180.3 325.0,179.6 325.4,181.3 325.8,178.0 326.2,179.5 326.6,180.7 327.0,185.3 327.4,185.8 327.9,186.0 328.3,185.5 328.7,188.2 329.1,187.1 329.5,186.9 329.9,190.8 330.3,190.4 330.7,189.7 331.1,194.0 331.5,190.9 332.0,187.6 332.4,188.8 332.8,188.5 333.2,186.8 333.6,186.7 334.0,185.7 334.4,185.5 334.8,187.1 335.2,190.1 335.6,192.8 336.1,191.5 336.5,194.7 336.9,194.2 337.3,198.2 337.7,196.0 338.1,195.2 338.5,193.2 338.9,193.2 339.3,188.2 339.7,190.2 340.2,188.0 340.6,187.2 341.0,184.2 341.4,185.6 341.8,182.3 342.2,183.8 342.6,179.8 343.0,179.4 343.4,177.9 343.8,179.8 344.3,180.0 344.7,175.3 345.1,172.8 345.5,175.9 345.9,168.6 346.3,168.2 346.7,170.6 347.1,168.4 347.5,167.8 347.9,164.1 348.4,163.2 348.8,155.6 349.2,154.6 349.6,147.8 350.0,142.5 350.4,144.3 350.8,147.0 351.2,147.8 351.6,158.2 352.0,157.4 352.5,164.4 352.9,164.2 353.3,171.6 353.7,171.0 354.1,168.7 354.5,169.0 354.9,167.2 355.3,162.4 355.7,163.0 356.1,163.6 356.6,158.5 357.0,156.9 357.4,159.6 357.8,158.7 358.2,151.1 358.6,153.8 359.0,152.0 359.4,152.6 359.8,153.1 360.2,154.9 360.7,157.5 361.1,159.1 361.5,160.6 361.9,169.5 362.3,163.8 362.7,167.4 363.1,169.4 363.5,171.8 363.9,174.7 364.3,172.1 364.8,178.6 365.2,175.7 365.6,178.7 366.0,170.9 366.4,171.5 366.8,176.5 367.2,171.0 367.6,171.4 368.0,167.6 368.4,162.4 368.9,166.7 369.3,164.6 369.7,163.9 370.1,164.8 370.5,164.0 370.9,163.0 371.3,162.9 371.7,164.3 372.1,159.0 372.5,164.8 373.0,154.4 373.4,154.3 373.8,150.0 374.2,146.0 374.6,147.6 375.0,142.6 375.4,136.7 375.8,134.3 376.2,137.6 376.6,127.6 377.1,126.2 377.5,120.3 377.9,120.8 378.3,117.8 378.7,112.5 379.1,111.5 379.5,109.4 379.9,107.9 380.3,104.3 380.7,111.4 381.2,108.9 381.6,109.3 382.0,115.2 382.4,116.9 382.8,119.8 383.2,120.8 383.6,120.3 384.0,120.4 384.4,119.3 384.8,123.2 385.3,119.5 385.7,121.8 386.1,120.3 386.5,118.0 386.9,122.4 387.3,128.9 387.7,125.4 388.1,130.4 388.5,134.3 388.9,139.6 389.4,141.7 389.8,148.2 390.2,142.5 390.6,143.0 391.0,138.8 391.4,137.5 391.8,134.4 392.2,135.6 392.6,130.3 393.0,127.3 393.5,128.6 393.9,137.2 394.3,142.4 394.7,147.5 395.1,149.9 395.5,161.3 395.9,164.0 396.3,166.6 396.7,168.9 397.1,170.8 397.6,168.1 398.0,169.2 398.4,168.1 398.8,165.7 399.2,168.7 399.6,171.7 400.0,173.9 400.4,173.1 400.8,173.3 401.2,173.1 401.7,174.1 402.1,175.2 402.5,170.8 402.9,175.5 403.3,174.3 403.7,174.7 404.1,176.4 404.5,177.0 404.9,174.4 405.3,178.2 405.8,182.0 406.2,181.9 406.6,182.8 407.0,186.0 407.4,186.5 407.8,188.1 408.2,189.1 408.6,191.5 409.0,193.0 409.4,196.1 409.9,196.0 410.3,193.3 410.7,196.5 411.1,196.0 411.5,198.0 411.9,197.2 412.3,199.4 412.7,197.5 413.1,200.5 413.5,199.1 414.0,199.2 414.4,199.0 414.8,198.7 415.2,194.9 415.6,192.8 416.0,193.0 416.4,192.1 416.8,191.8 417.2,190.7 417.6,189.8 418.1,190.5 418.5,190.2 418.9,191.3 419.3,193.7 419.7,192.8 420.1,195.0 420.5,191.3 420.9,195.9 421.3,195.5 421.7,194.3 422.2,198.7 422.6,193.7 423.0,197.0 423.4,194.7 423.8,192.6 424.2,194.0 424.6,191.8 425.0,193.4 425.4,191.9 425.8,189.0 426.3,188.8 426.7,188.8 427.1,186.8 427.5,189.8 427.9,184.3 428.3,187.4 428.7,180.4 429.1,181.9 429.5,178.8 429.9,179.3 430.4,174.2 430.8,177.3 431.2,173.8 431.6,171.3 432.0,173.4 432.4,172.6 432.8,169.1 433.2,168.4 433.6,169.4 434.0,167.1 434.5,166.1 434.9,170.0 435.3,170.4 435.7,168.7 436.1,171.6 436.5,173.0 436.9,179.9 437.3,177.7 437.7,179.5 438.1,179.8 438.6,180.1 439.0,178.9 439.4,183.1 439.8,180.0 440.2,182.6 440.6,181.8 441.0,183.0 441.4,182.5 441.8,184.7 442.2,184.6 442.7,185.1 443.1,188.0 443.5,188.3 443.9,188.1 444.3,190.0 444.7,188.9 445.1,190.6 445.5,188.1 445.9,187.3 446.3,186.9 446.8,184.3 447.2,183.8 447.6,186.3 448.0,186.9 448.4,188.3 448.8,189.6 449.2,191.3 449.6,190.3 450.0,189.4 450.4,190.8 450.9,190.9 451.3,189.6 451.7,190.4 452.1,189.5 452.5,190.4 452.9,189.1 453.3,193.1 453.7,189.6 454.1,190.9 454.5,190.7 455.0,188.8 455.4,188.2 455.8,187.8 456.2,189.2 456.6,187.8 457.0,187.0 457.4,185.0 457.8,187.6 458.2,188.1 458.6,189.0 459.1,188.0 459.5,188.3 459.9,190.1 460.3,192.0 460.7,190.5 461.1,189.9 461.5,190.6 461.9,186.4 462.3,188.1 462.7,190.8 463.2,187.1 463.6,188.1 464.0,189.2 464.4,186.0 464.8,184.0 465.2,184.5 465.6,186.0 466.0,187.2 466.4,185.2 466.8,189.3 467.3,188.6 467.7,186.8 468.1,190.2 468.5,190.8 468.9,189.0 469.3,191.7 469.7,191.2 470.1,189.8 470.5,191.6 470.9,191.1 471.4,193.0 471.8,195.6 472.2,191.2 472.6,193.5 473.0,192.1 473.4,195.4 473.8,193.0 474.2,195.6 474.6,194.4 475.0,194.6 475.5,196.0 475.9,196.7 476.3,195.9 476.7,196.7 477.1,196.1 477.5,198.0 477.9,198.2 478.3,197.2 478.7,197.8 479.1,197.5 479.6,198.4 480.0,197.5 480.4,197.7 480.8,198.0 481.2,200.0 481.6,198.9 482.0,197.7 482.4,199.2 482.8,197.8 483.2,199.0 483.7,199.0 484.1,200.6 484.5,202.6 484.9,202.2 485.3,207.1 485.7,207.6 486.1,206.9 486.5,211.1 486.9,211.5 487.3,210.2 487.8,209.0 488.2,210.1 488.6,209.3 489.0,209.4 489.4,210.7 489.8,208.2 490.2,208.0 490.6,209.3 491.0,210.1 491.4,208.3 491.9,207.0 492.3,207.9 492.7,205.0 493.1,206.1 493.5,204.1 493.9,204.9 494.3,203.6 494.7,200.4 495.1,199.3 495.5,199.4 496.0,196.6 496.4,196.9 496.8,193.7 497.2,192.7 497.6,193.5 498.0,193.5 498.4,196.4 498.8,199.1 499.2,197.6 499.6,198.8 500.1,200.3 500.5,201.2 500.9,200.6 501.3,198.3 501.7,203.5 502.1,204.9 502.5,203.8 502.9,205.9 503.3,205.0 503.7,204.4 504.2,205.5 504.6,205.2 505.0,202.9 505.4,205.7 505.8,203.3 506.2,203.4 506.6,202.1 507.0,204.0 507.4,203.0 507.8,202.0 508.3,203.5 508.7,203.5 509.1,201.9 509.5,203.8 509.9,203.1 510.3,201.9 510.7,202.7 511.1,203.3 511.5,202.0 511.9,203.2 512.4,203.3 512.8,204.2 513.2,204.5 513.6,205.1 514.0,204.2 514.4,206.1 514.8,205.4 515.2,206.5 515.6,204.1 516.0,207.0 516.5,207.3 516.9,207.7 517.3,210.4 517.7,209.4 518.1,209.5 518.5,206.3 518.9,208.3 519.3,211.0 519.7,213.2 520.1,214.6 520.6,217.9 521.0,217.8 521.4,215.9 521.8,216.0 522.2,218.8 522.6,216.1 523.0,219.7 523.4,218.6 523.8,216.3 524.2,221.1 524.7,219.2 525.1,219.4 525.5,218.3 525.9,218.1 526.3,219.3 526.7,219.2 527.1,219.3 527.5,222.4 527.9,221.7 528.3,221.9 528.8,223.8 529.2,223.3 529.6,226.0 530.0,227.5 530.4,226.8 530.8,228.0 531.2,227.0 531.6,226.2 532.0,224.1 532.4,223.1 532.9,222.7 533.3,221.5 533.7,222.6 534.1,221.5 534.5,219.7 534.9,221.0 535.3,222.4 535.7,222.3 536.1,221.6 536.5,222.8 537.0,223.6 537.4,220.6 537.8,224.3 538.2,222.5 538.6,222.4 539.0,221.6 539.4,223.4 539.8,220.9 540.2,221.8 540.6,222.5 541.1,221.5 541.5,222.6 541.9,221.7 542.3,221.0 542.7,222.2 543.1,222.3 543.5,222.9 543.9,222.7 544.3,225.2 544.7,222.9 545.2,224.3 545.6,224.9 546.0,226.6 546.4,227.4 546.8,227.5 547.2,227.9 547.6,227.8 548.0,229.3 548.4,228.1 548.8,228.9 549.3,228.8 549.7,230.1 550.1,231.1 550.5,231.7 550.9,231.7 551.3,231.1 551.7,231.8 552.1,232.2 552.5,231.2 552.9,229.2 553.4,230.0 553.8,228.9 554.2,229.4 554.6,228.8 555.0,229.5 555.4,228.7 555.8,228.0 556.2,228.4 556.6,229.3 557.0,230.9 557.5,229.5 557.9,232.5 558.3,231.2 558.7,231.4 559.1,231.6 559.5,231.8 559.9,230.2 560.3,229.3 560.7,229.3 561.1,228.7 561.6,227.8 562.0,226.6 562.4,227.8 562.8,229.1 563.2,228.4 563.6,229.6 564.0,231.9 564.4,232.7 564.8,233.1 565.2,232.4 565.7,230.9 566.1,231.4 566.5,230.6 566.9,229.9 567.3,230.2 567.7,228.8 568.1,229.4 568.5,228.0 568.9,226.9 569.3,227.9 569.8,227.6 570.2,227.8 570.6,228.9 571.0,229.2 571.4,227.7 571.8,228.8 572.2,228.2 572.6,229.3 573.0,228.7 573.4,228.3 573.9,229.5 574.3,230.5 574.7,230.0 575.1,228.6 575.5,232.0 575.9,230.6 576.3,232.2 576.7,231.0 577.1,230.5 577.5,230.4 578.0,231.7 578.4,232.2 578.8,231.9 579.2,232.9 579.6,233.1 580.0,232.3 580.4,231.7 580.8,233.2 581.2,233.2 581.6,233.4 582.1,233.6 582.5,232.1 582.9,233.4 583.3,232.9 583.7,235.3 584.1,235.1 584.5,234.6 584.9,234.5 585.3,235.0 585.7,236.6 586.2,236.6 586.6,237.5 587.0,237.5 587.4,239.2 587.8,239.5 588.2,239.7 588.6,240.9 589.0,240.9 589.4,240.7 589.8,240.3 590.3,239.5 590.7,240.0 591.1,239.7 591.5,239.7 591.9,238.4 592.3,238.7 592.7,236.6 593.1,237.4 593.5,236.2 593.9,234.3 594.4,231.5 594.8,229.6 595.2,226.7 595.6,223.9 596.0,223.6 596.4,221.6 596.8,218.7 597.2,219.4 597.6,219.6 598.0,221.7 598.5,221.1 598.9,222.9 599.3,224.9 599.7,225.3 600.1,224.2 600.5,226.7 600.9,226.4 601.3,226.9 601.7,227.7 602.1,226.4 602.6,227.1 603.0,227.6 603.4,228.2 603.8,227.0 604.2,229.5 604.6,229.2 605.0,230.6 605.4,230.4 605.8,229.6 606.2,228.5 606.7,229.2 607.1,228.2 607.5,229.2 607.9,227.8 608.3,227.9 608.7,228.5 609.1,228.3 609.5,228.2 609.9,229.0 610.3,228.1 610.8,228.4 611.2,228.2 611.6,229.3 612.0,228.2 612.4,227.5 612.8,229.8 613.2,230.1 613.6,231.7 614.0,234.2 614.4,233.5 614.9,232.9 615.3,233.7 615.7,233.9 616.1,234.3 616.5,233.5 616.9,233.5 617.3,232.4 617.7,233.2 618.1,234.2 618.5,232.8 619.0,233.1 619.4,232.6 619.8,233.8 620.2,231.6 620.6,230.3 621.0,225.2 621.4,223.7 621.8,223.2 622.2,222.3 622.6,223.5 623.1,222.6 623.5,224.6 623.9,224.5 624.3,225.7 624.7,229.1 625.1,230.7 625.5,233.8 625.9,233.7 626.3,231.2 626.7,233.6 627.2,231.6 627.6,231.1 628.0,232.8 628.4,230.7 628.8,231.4 629.2,232.1 629.6,231.9 630.0,232.4 630.4,231.6 630.8,231.9 631.3,230.6 631.7,231.8 632.1,232.4 632.5,232.6 632.9,231.7 633.3,230.8 633.7,231.5 634.1,233.1 634.5,232.9 634.9,233.2 635.4,232.4 635.8,232.0 636.2,232.3 636.6,232.6 637.0,231.6 637.4,231.6 637.8,230.9 638.2,231.9 638.6,229.3 639.0,231.4 639.5,228.2 639.9,229.4 640.3,228.0 640.7,226.7 641.1,225.8 641.5,227.0 641.9,226.0 642.3,224.1 642.7,225.9 643.1,226.9 643.6,227.1 644.0,228.4 644.4,227.6 644.8,228.8 645.2,230.0 645.6,229.4 646.0,229.6 646.4,230.1 646.8,228.2 647.2,230.1 647.7,229.8 648.1,230.6 648.5,230.9 648.9,231.6 649.3,232.1 649.7,232.6 650.1,235.0 650.5,236.3 650.9,235.8 651.3,236.2 651.8,234.4 652.2,235.9 652.6,235.4 653.0,236.0 653.4,236.4 653.8,235.4 654.2,235.3 654.6,236.4 655.0,237.0 655.4,237.2 655.9,236.1 656.3,235.6 656.7,236.8 657.1,237.7 657.5,237.6 657.9,238.1 658.3,237.4 658.7,238.4 659.1,239.3 659.5,238.8 660.0,237.7 660.4,238.5 660.8,237.8 661.2,238.4 661.6,238.4 662.0,237.6 662.4,238.3 662.8,237.5 663.2,237.5 663.6,237.3 664.1,239.0 664.5,237.6 664.9,238.8 665.3,239.2 665.7,238.9 666.1,239.1 666.5,238.4 666.9,239.4 667.3,237.7 667.7,238.0 668.2,237.5 668.6,237.4 669.0,237.7 669.4,235.7 669.8,235.4 670.2,234.9 670.6,236.2 671.0,236.7 671.4,234.6 671.8,235.7 672.3,235.4 672.7,237.5 673.1,237.4 673.5,235.8 673.9,236.2 674.3,237.0 674.7,237.4 675.1,237.9 675.5,238.2 675.9,237.3 676.4,236.7 676.8,237.8 677.2,237.5 677.6,238.0 678.0,237.5 678.4,238.1 678.8,237.2 679.2,238.4 679.6,238.2 680.0,238.8 680.5,239.4 680.9,238.8 681.3,240.2 681.7,239.4 682.1,240.9 682.5,240.1 682.9,240.7 683.3,239.7 683.7,239.7 684.1,239.9 684.6,239.3 685.0,239.6 685.4,239.1 685.8,239.0 686.2,239.2 686.6,238.7 687.0,237.7 687.4,239.6 687.8,240.7 688.2,242.5 688.7,244.1 689.1,244.9 689.5,245.4 689.9,245.4 690.3,245.6 690.7,245.4 691.1,246.1 691.5,246.5 691.9,246.3 692.3,247.3 692.8,246.6 693.2,247.3 693.6,247.0 694.0,247.0 694.4,247.6 694.8,246.9 695.2,247.5 695.6,246.4 696.0,247.5 696.4,247.6 696.9,247.7 697.3,247.7 697.7,248.5 698.1,248.5 698.5,247.9 698.9,247.3 699.3,248.6 699.7,248.4 700.1,248.2 700.5,248.5 700.9,247.9 701.4,247.9 701.8,248.7 702.2,249.7 702.6,248.8 703.0,249.7 703.4,249.4 703.8,248.7 704.2,249.3 704.6,249.2 705.0,249.4 705.5,248.9 705.9,248.9 706.3,248.6 706.7,249.4 707.1,248.6 707.5,249.1 707.9,249.0 708.3,249.1 708.7,250.3 709.1,251.4 709.6,251.5 710.0,252.0 710.4,253.1 710.8,253.3 711.2,254.3 711.6,254.1 712.0,254.7 712.4,255.3 712.8,254.9 713.2,254.2 713.7,254.1 714.1,254.8 714.5,254.1 714.9,253.2 715.3,253.9 715.7,252.9 716.1,253.2 716.5,252.4 716.9,252.1 717.3,252.3 717.8,251.2 718.2,251.2 718.6,251.1 719.0,251.2 719.4,251.6 719.8,251.3 720.2,252.3 720.6,252.2 721.0,252.3 721.4,252.2 721.9,253.3 722.3,252.6 722.7,253.0 723.1,253.7 723.5,253.5 723.9,254.0 724.3,254.6 724.7,254.3 725.1,253.7 725.5,254.7 726.0,254.9 726.4,254.2 726.8,255.0 727.2,255.7 727.6,255.3 728.0,255.5 728.4,255.2 728.8,255.6 729.2,255.3 729.6,255.5 730.1,255.4 730.5,255.5 730.9,255.6 731.3,256.6 731.7,256.4 732.1,257.0 732.5,257.8 732.9,257.7 733.3,258.3 733.7,258.0 734.2,259.2 734.6,258.9 735.0,259.3 735.4,259.8 735.8,260.1 736.2,260.3 736.6,260.5 737.0,261.2 737.4,260.6 737.8,261.1 738.3,261.6 738.7,262.4 739.1,261.9 739.5,262.3 739.9,262.3 740.3,262.6 740.7,262.2 741.1,262.5 741.5,262.3 741.9,262.9 742.4,263.0 742.8,263.2 743.2,263.5 743.6,263.1 744.0,262.4 744.4,261.1 744.8,261.1 745.2,260.3 745.6,259.6 746.0,259.2 746.5,258.7 746.9,258.0 747.3,258.6 747.7,257.8 748.1,257.7 748.5,257.9 748.9,257.5 749.3,257.2 749.7,257.1 750.1,257.4 750.6,257.7 751.0,258.0 751.4,258.5 751.8,258.7 752.2,258.8 752.6,259.0 753.0,258.3 753.4,258.0 753.8,258.0 754.2,257.4 754.7,256.3 755.1,256.2 755.5,256.1 755.9,254.9 756.3,254.4 756.7,254.1 757.1,253.5 757.5,252.5 757.9,252.0 758.3,250.8 758.8,251.1 759.2,252.5 759.6,251.6 760.0,252.1 760.4,253.2 760.8,253.3 761.2,254.5 761.6,255.0 762.0,255.3 762.4,254.6 762.9,254.9 763.3,254.8 763.7,254.9 764.1,254.7 764.5,255.3 764.9,255.2 765.3,255.3 765.7,255.3 766.1,255.3 766.5,255.6 767.0,255.1 767.4,255.4 767.8,255.1 768.2,255.0 768.6,254.1 769.0,254.7 769.4,254.7 769.8,253.6 770.2,254.2 770.6,254.1 771.1,254.2 771.5,253.9 771.9,254.8 772.3,254.6 772.7,254.5 773.1,255.3 773.5,254.6 773.9,255.7 774.3,255.4 774.7,255.2 775.2,255.3 775.6,256.1 776.0,256.6 776.4,257.5 776.8,258.7 777.2,260.0 777.6,260.6 778.0,261.3 778.4,261.0 778.8,261.1 779.3,261.2 779.7,260.9 780.1,260.6 780.5,261.3 780.9,261.0 781.3,261.4 781.7,260.7 782.1,261.5 782.5,261.4 782.9,261.9 783.4,261.6 783.8,262.5 784.2,262.4 784.6,262.4 785.0,262.8 785.4,263.2 785.8,262.7 786.2,262.6 786.6,262.5 787.0,262.4 787.5,262.1 787.9,261.8 788.3,262.0 788.7,261.3 789.1,261.0 789.5,260.7 789.9,261.3 790.3,260.6 790.7,261.1 791.1,260.6 791.6,260.9 792.0,261.3 792.4,260.8 792.8,261.0 793.2,261.3 793.6,260.7 794.0,261.1 794.4,260.9 794.8,261.1 795.2,260.9 795.7,261.3 796.1,260.9 796.5,260.9 796.9,260.8 797.3,261.2 797.7,261.2 798.1,261.1 798.5,261.1 798.9,261.5 799.3,261.2 799.8,261.6 800.2,261.7 800.6,261.7 801.0,261.8 801.4,261.7 801.8,262.0 802.2,262.2 802.6,262.3 803.0,262.2 803.4,262.3 803.9,262.6 804.3,262.3 804.7,263.0 805.1,262.3 805.5,262.4 805.9,262.7 806.3,262.7 806.7,263.0 807.1,262.9 807.5,262.5 808.0,262.5 808.4,262.1 808.8,262.1 809.2,261.7 809.6,261.6 810.0,261.1 810.4,260.8 810.8,260.9 811.2,260.9 811.6,261.6 812.1,261.1 812.5,260.9 812.9,261.1 813.3,260.7 813.7,261.0 814.1,261.2 814.5,261.0 814.9,261.2 815.3,261.2 815.7,261.6 816.2,261.2 816.6,261.2 817.0,261.1 817.4,260.7 817.8,261.2 818.2,261.6 818.6,261.4 819.0,261.0 819.4,261.0 819.8,261.3 820.3,260.8 820.7,261.3 821.1,261.0 821.5,261.1 821.9,261.1 822.3,261.1 822.7,261.1 823.1,261.0 823.5,261.0 823.9,261.1 824.4,261.4 824.8,261.3 825.2,260.6 825.6,261.0 826.0,260.9 826.4,260.5 826.8,260.2 827.2,260.3 827.6,259.6 828.0,259.3 828.5,260.0 828.9,260.6 829.3,261.3 829.7,261.6 830.1,262.1 830.5,262.4 830.9,262.8 831.3,262.6 831.7,262.1 832.1,261.3 832.6,260.9 833.0,260.2 833.4,259.8 833.8,259.0 834.2,259.6 834.6,258.7 835.0,258.0"/>
<polyline fill="none" stroke="#0000d8" stroke-width="2.08" stroke-linejoin="round" stroke-linecap="square" points="835.1,256.2 910.3,244.7 985.0,229.2 1134.6,241.6"/>
</g>
<rect x="75.5" y="70.5" width="1110.0" height="207.0" fill="none" stroke="#000" stroke-width="1.11"/>
<line x1="70.64" x2="75.5" y1="274.5" y2="274.5" stroke="#000" stroke-width="1.11"/>
<text x="34.58 43.22 47.82 56.65" y="279.4" font-size="14.58">0.00</text>
<line x1="70.64" x2="75.5" y1="234.5" y2="234.5" stroke="#000" stroke-width="1.11"/>
<text x="35.05 43.69 48.29 56.93" y="239.4" font-size="14.58">0.02</text>
<line x1="70.64" x2="75.5" y1="195.5" y2="195.5" stroke="#000" stroke-width="1.11"/>
<text x="34.44 43.08 47.68 56.50" y="200.4" font-size="14.58">0.04</text>
<line x1="70.64" x2="75.5" y1="155.5" y2="155.5" stroke="#000" stroke-width="1.11"/>
<text x="34.53 43.17 47.77 56.60" y="160.4" font-size="14.58">0.06</text>
<line x1="70.64" x2="75.5" y1="115.5" y2="115.5" stroke="#000" stroke-width="1.11"/>
<text x="34.61 43.25 47.84 56.67" y="120.4" font-size="14.58">0.08</text>
<line x1="70.64" x2="75.5" y1="76.5" y2="76.5" stroke="#000" stroke-width="1.11"/>
<text x="34.58 43.22 47.74 56.65" y="81.4" font-size="14.58">0.10</text>
<line x1="192.5" x2="192.5" y1="277.5" y2="282.36" stroke="#000" stroke-width="1.11"/>
<text x="175.15 184.16 192.80 201.74" y="297.6" font-size="14.58">2021</text>
<line x1="342.5" x2="342.5" y1="277.5" y2="282.36" stroke="#000" stroke-width="1.11"/>
<text x="325.20 334.21 342.86 351.69" y="297.6" font-size="14.58">2022</text>
<line x1="492.5" x2="492.5" y1="277.5" y2="282.36" stroke="#000" stroke-width="1.11"/>
<text x="475.06 484.07 492.72 501.75" y="297.6" font-size="14.58">2023</text>
<line x1="642.5" x2="642.5" y1="277.5" y2="282.36" stroke="#000" stroke-width="1.11"/>
<text x="624.90 633.91 642.55 651.56" y="297.6" font-size="14.58">2024</text>
<line x1="792.5" x2="792.5" y1="277.5" y2="282.36" stroke="#000" stroke-width="1.11"/>
<text x="775.12 784.13 792.77 801.73" y="297.6" font-size="14.58">2025</text>
<line x1="942.5" x2="942.5" y1="277.5" y2="282.36" stroke="#000" stroke-width="1.11"/>
<text x="924.95 933.96 942.60 951.61" y="297.6" font-size="14.58">2026</text>
<line x1="1091.5" x2="1091.5" y1="277.5" y2="282.36" stroke="#000" stroke-width="1.11"/>
<text x="1074.10 1083.11 1091.76 1100.74" y="297.6" font-size="14.58">2027</text>
<text x="613.51 623.76 633.25 638.27" y="316.7" font-size="14.58">Date</text>
<text x="-17.68 -8.43 -3.10 0.45 8.31" y="0" font-size="14.58" transform="translate(26,176.0) rotate(-90)">Price</text>
<g clip-path="url(#cb)">
<polygon fill="#bfdfbf" points="126.2,510.5 377.5,420.5 630.0,356.7 1134.6,344.8 1134.6,477.8 630.0,459.0 377.5,481.2 126.2,510.0"/>
<polygon fill="#ffbfbf" points="126.2,513.5 377.5,510.5 630.0,484.0 1134.6,492.5 1134.6,531.7 630.0,517.7 377.5,524.5 126.2,514.0"/>
<polygon fill="#7f7fff" points="126.2,510.0 377.5,481.2 630.0,459.0 1134.6,477.8 1134.6,492.5 630.0,484.0 377.5,510.5 126.2,513.5"/>
<line x1="75.5" x2="1185.5" y1="507.5" y2="507.5" stroke="#b0b0b0" stroke-width="1.11"/>
<line x1="75.5" x2="1185.5" y1="470.5" y2="470.5" stroke="#b0b0b0" stroke-width="1.11"/>
<line x1="75.5" x2="1185.5" y1="434.5" y2="434.5" stroke="#b0b0b0" stroke-width="1.11"/>
<line x1="75.5" x2="1185.5" y1="397.5" y2="397.5" stroke="#b0b0b0" stroke-width="1.11"/>
<line x1="75.5" x2="1185.5" y1="361.5" y2="361.5" stroke="#b0b0b0" stroke-width="1.11"/>
<line x1="105.5" x2="105.5" y1="335.5" y2="542.5" stroke="#b0b0b0" stroke-width="1.11"/>
<line x1="231.5" x2="231.5" y1="335.5" y2="542.5" stroke="#b0b0b0" stroke-width="1.11"/>
<line x1="358.5" x2="358.5" y1="335.5" y2="542.5" stroke="#b0b0b0" stroke-width="1.11"/>
<line x1="485.5" x2="485.5" y1="335.5" y2="542.5" stroke="#b0b0b0" stroke-width="1.11"/>
<line x1="609.5" x2="609.5" y1="335.5" y2="542.5" stroke="#b0b0b0" stroke-width="1.11"/>
<line x1="735.5" x2="735.5" y1="335.5" y2="542.5" stroke="#b0b0b0" stroke-width="1.11"/>
<line x1="862.5" x2="862.5" y1="335.5" y2="542.5" stroke="#b0b0b0" stroke-width="1.11"/>
<line x1="989.5" x2="989.5" y1="335.5" y2="542.5" stroke="#b0b0b0" stroke-width="1.11"/>
<line x1="1114.5" x2="1114.5" y1="335.5" y2="542.5" stroke="#b0b0b0" stroke-width="1.11"/>
<polyline fill="none" stroke="#0000d8" stroke-width="2.08" stroke-linejoin="round" stroke-linecap="square" points="126.2,510.8 377.5,489.5 630.0,460.7 1134.6,483.7"/>
</g>
<rect x="75.5" y="335.5" width="1110.0" height="207.0" fill="none" stroke="#000" stroke-width="1.11"/>
<line x1="70.64" x2="75.5" y1="507.5" y2="507.5" stroke="#000" stroke-width="1.11"/>
<text x="34.94 43.58 48.18 56.93" y="512.4" font-size="14.58">0.01</text>
<line x1="70.64" x2="75.5" y1="470.5" y2="470.5" stroke="#000" stroke-width="1.11"/>
<text x="35.05 43.69 48.29 56.93" y="475.4" font-size="14.58">0.02</text>
<line x1="70.64" x2="75.5" y1="434.5" y2="434.5" stroke="#000" stroke-width="1.11"/>
<text x="34.77 43.41 48.01 56.85" y="439.4" font-size="14.58">0.03</text>
<line x1="70.64" x2="75.5" y1="397.5" y2="397.5" stroke="#000" stroke-width="1.11"/>
<text x="34.44 43.08 47.68 56.50" y="402.4" font-size="14.58">0.04</text>
<line x1="70.64" x2="75.5" y1="361.5" y2="361.5" stroke="#000" stroke-width="1.11"/>
<text x="34.87 43.51 48.11 56.88" y="366.4" font-size="14.58">0.05</text>
<line x1="105.5" x2="105.5" y1="542.5" y2="547.36" stroke="#000" stroke-width="1.11"/>
<text x="76.57 85.58 94.22 103.18 111.78 117.07 125.89" y="561.7" font-size="14.58">2025-04</text>
<line x1="231.5" x2="231.5" y1="542.5" y2="547.36" stroke="#000" stroke-width="1.11"/>
<text x="202.77 211.78 220.43 229.38 237.98 243.27 252.07" y="561.7" font-size="14.58">2025-07</text>
<line x1="358.5" x2="358.5" y1="542.5" y2="547.36" stroke="#000" stroke-width="1.11"/>
<text x="329.64 338.65 347.29 356.25 364.85 370.06 378.97" y="561.7" font-size="14.58">2025-10</text>
<line x1="485.5" x2="485.5" y1="542.5" y2="547.36" stroke="#000" stroke-width="1.11"/>
<text x="456.82 465.83 474.47 483.49 492.03 497.32 506.07" y="561.7" font-size="14.58">2026-01</text>
<line x1="609.5" x2="609.5" y1="542.5" y2="547.36" stroke="#000" stroke-width="1.11"/>
<text x="580.57 589.58 598.22 607.23 615.78 621.07 629.89" y="561.7" font-size="14.58">2026-04</text>
<line x1="735.5" x2="735.5" y1="542.5" y2="547.36" stroke="#000" stroke-width="1.11"/>
<text x="706.77 715.78 724.43 733.44 741.98 747.27 756.07" y="561.7" font-size="14.58">2026-07</text>
<line x1="862.5" x2="862.5" y1="542.5" y2="547.36" stroke="#000" stroke-width="1.11"/>
<text x="833.64 842.65 851.29 860.31 868.85 874.06 882.97" y="561.7" font-size="14.58">2026-10</text>
<line x1="989.5" x2="989.5" y1="542.5" y2="547.36" stroke="#000" stroke-width="1.11"/>
<text x="960.82 969.83 978.47 987.46 996.03 1001.32 1010.07" y="561.7" font-size="14.58">2027-01</text>
<line x1="1114.5" x2="1114.5" y1="542.5" y2="547.36" stroke="#000" stroke-width="1.11"/>
<text x="1085.57 1094.58 1103.22 1112.21 1120.78 1126.07 1134.89" y="561.7" font-size="14.58">2027-04</text>
<text x="613.51 623.76 633.25 638.27" y="581.6" font-size="14.58">Date</text>
<text x="-17.68 -8.43 -3.10 0.45 8.31" y="0" font-size="14.58" transform="translate(26,441.0) rotate(-90)">Price</text>
<rect x="82.5" y="77.5" width="135.5" height="129" rx="2.8" ry="2.8" fill="#fff" fill-opacity="0.8" stroke="#ccc" stroke-opacity="0.8" stroke-width="1.11"/>
<line x1="87.4" x2="115.2" y1="88.8" y2="88.8" stroke="#006e00" stroke-width="2.08"/>
<text x="126.35 137.15 140.96 149.85" y="93.8" font-size="14.58">High</text>
<line x1="87.4" x2="115.2" y1="109.8" y2="109.8" stroke="#d80000" stroke-width="2.08"/>
<text x="126.50 134.08 142.78" y="114.8" font-size="14.58">Low</text>
<line x1="87.4" x2="115.2" y1="130.9" y2="130.9" stroke="#0000b4" stroke-width="2.08"/>
<text x="125.90 136.40 140.14 148.50 155.91" y="135.9" font-size="14.58">Close</text>
<rect x="87.9" y="147.1" width="27.0" height="9.5" fill="#bfdfbf"/>
<text x="125.55 136.35 140.16 149.05 157.67 161.68 170.97 180.17 188.86 197.64" y="156.9" font-size="14.58">High Range</text>
<rect x="87.9" y="168.2" width="27.0" height="9.5" fill="#ffbfbf"/>
<text x="125.70 133.28 141.98 153.10 157.11 166.40 175.60 184.28 193.07" y="178.0" font-size="14.58">Low Range</text>
<rect x="87.9" y="189.2" width="27.0" height="9.5" fill="#7f7fff"/>
<text x="125.10 135.60 139.34 147.70 155.11 163.58 167.59 176.88 186.08 194.76 203.55" y="199.0" font-size="14.58">Close Range</text>
<rect x="82.5" y="342.5" width="135.5" height="129" rx="2.8" ry="2.8" fill="#fff" fill-opacity="0.8" stroke="#ccc" stroke-opacity="0.8" stroke-width="1.11"/>
<line x1="87.4" x2="115.2" y1="353.8" y2="353.8" stroke="#006e00" stroke-width="2.08"/>
<text x="126.35 137.15 140.96 149.85" y="358.8" font-size="14.58">High</text>
<line x1="87.4" x2="115.2" y1="374.8" y2="374.8" stroke="#d80000" stroke-width="2.08"/>
<text x="126.50 134.08 142.78" y="379.8" font-size="14.58">Low</text>
<line x1="87.4" x2="115.2" y1="395.9" y2="395.9" stroke="#0000b4" stroke-width="2.08"/>
<text x="125.90 136.40 140.14 148.50 155.91" y="400.9" font-size="14.58">Close</text>
<rect x="87.9" y="411.79999999999995" width="27.0" height="9.5" fill="#bfdfbf"/>
<text x="125.55 136.35 140.16 149.05 157.67 161.68 170.97 180.17 188.86 197.64" y="420.79999999999995" font-size="14.58">High Range</text>
<rect x="87.9" y="432.9" width="27.0" height="9.5" fill="#ffbfbf"/>
<text x="125.70 133.28 141.98 153.10 157.11 166.40 175.60 184.28 193.07" y="441.9" font-size="14.58">Low Range</text>
<rect x="87.9" y="453.9" width="27.0" height="9.5" fill="#7f7fff"/>
<text x="125.10 135.60 139.34 147.70 155.11 163.58 167.59 176.88 186.08 194.76 203.55" y="462.9" font-size="14.58">Close Range</text>
<text x="311.60 316.32 327.60 339.00 343.94 355.30 367.06 372.02 378.64 383.36 394.64 406.04 410.97 422.33 434.66 440.58 446.02 450.50 460.89 471.30 481.74 487.60 493.62 504.39 511.02 526.56 532.15 543.01 549.39 553.64 563.06 573.22 578.81 589.67 595.59 605.85 616.46 620.70 630.63 636.73 641.21 651.60 661.90 667.35 672.79 678.06 688.86 699.22 709.95 720.21 725.66 736.45 746.81 757.61 767.80 773.25 784.05 794.41 805.17 815.57 820.53 826.98 839.02 849.88 856.10 861.51 872.18 883.10" y="25.8" font-size="17.50">IXR.AX (IXR.AX) long term price prediction : 2025,2026,2027 (Apr 16)</text>
<text x="284.79 295.05 305.48 318.88 329.65 335.57 345.83 356.27 361.87 372.45 381.95 386.48 397.63 403.55 413.80 424.41 428.66 438.59 444.41 449.78 460.92 467.30 471.55 480.97 491.12 496.20 505.57 516.38 531.92 536.60 547.62 558.03 568.48 573.45 587.50 598.40 609.01 613.26 622.00 632.95 636.66 647.81 653.73 663.98 674.59 678.84 688.77 694.87 699.35 709.73 720.03 725.11 734.48 745.29 760.83 765.51 776.53 786.94 797.39 802.36 816.41 827.31 837.92 842.17 850.91 861.86 865.97 877.93 887.63 898.58 903.38 912.75 921.70 926.03 934.81 939.90 949.27 960.08" y="61.8" font-size="17.50">powered by Predict-Price.com and MagicalPrediction.com and MagicalAnalysis.com</text>
<text x="217.07 244.84 259.74 285.42 311.98 322.62 347.46 362.04 375.49 403.26 419.24 429.87 453.47 478.87 491.60 515.05 542.11" y="160.8" font-size="43.75" fill-opacity="0.045">Predict-Price.com</text>
<text x="619.07 646.84 661.74 687.42 713.98 724.62 749.46 764.04 777.49 805.26 821.24 831.87 855.47 880.87 893.60 917.05 944.11" y="160.8" font-size="43.75" fill-opacity="0.045">Predict-Price.com</text>
<text x="217.07 244.84 259.74 285.42 311.98 322.62 347.46 362.04 375.49 403.26 419.24 429.87 453.47 478.87 491.60 515.05 542.11" y="310.8" font-size="43.75" fill-opacity="0.045">Predict-Price.com</text>
<text x="619.07 646.84 661.74 687.42 713.98 724.62 749.46 764.04 777.49 805.26 821.24 831.87 855.47 880.87 893.60 917.05 944.11" y="310.8" font-size="43.75" fill-opacity="0.045">Predict-Price.com</text>
<text x="217.07 244.84 259.74 285.42 311.98 322.62 347.46 362.04 375.49 403.26 419.24 429.87 453.47 478.87 491.60 515.05 542.11" y="460.8" font-size="43.75" fill-opacity="0.045">Predict-Price.com</text>
<text x="619.07 646.84 661.74 687.42 713.98 724.62 749.46 764.04 777.49 805.26 821.24 831.87 855.47 880.87 893.60 917.05 944.11" y="460.8" font-size="43.75" fill-opacity="0.045">Predict-Price.com</text>
</svg></body></html>
